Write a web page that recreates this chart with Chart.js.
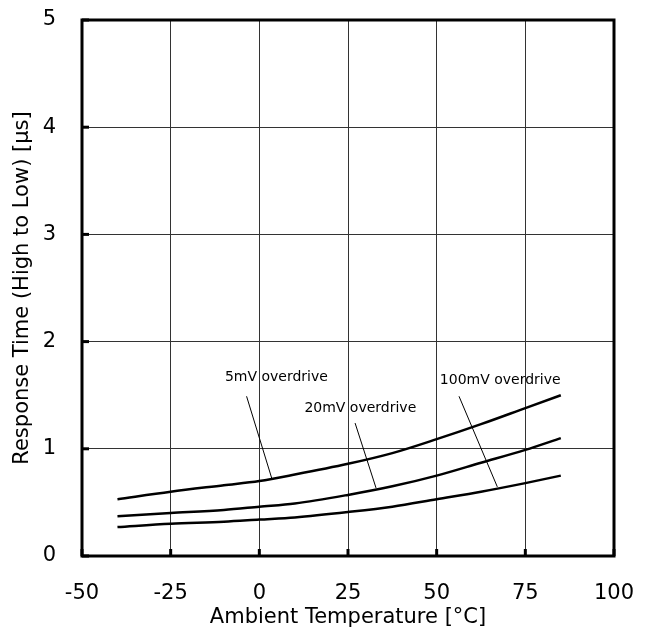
<!DOCTYPE html>
<html>
<head>
<meta charset="utf-8">
<script src="https://cdn.jsdelivr.net/npm/chart.js@4"></script>
<style>
  html, body { margin: 0; padding: 0; background: #fff; }
  #wrap { width: 646px; height: 632px; }
</style>
</head>
<body>
<div id="wrap"><canvas id="myChart" width="646" height="632"></canvas></div>
<script>
// data
const temps = [-40, -25, -10, 0, 10, 25, 37.5, 50, 62.5, 75, 85];
const od5mV = [0.53, 0.60, 0.66, 0.70, 0.76, 0.86, 0.96, 1.09, 1.23, 1.38, 1.50];
const od20mV = [0.37, 0.40, 0.43, 0.46, 0.49, 0.57, 0.65, 0.75, 0.87, 0.99, 1.10];
const od100mV = [0.27, 0.30, 0.32, 0.34, 0.36, 0.41, 0.46, 0.53, 0.60, 0.68, 0.75];

// callout labels: [text, x, y] and leader lines [[x1,y1],[x2,y2]]
const labels = [
  ['5mV overdrive', -9.7, 1.666],
  ['20mV overdrive', 12.7, 1.379],
  ['100mV overdrive', 50.9, 1.638]
];
const leader5 = [[-3.6, 1.49], [3.5, 0.725]];
const leader20 = [[27.0, 1.24], [32.9, 0.635]];
const leader100 = [[56.3, 1.49], [67.1, 0.645]];

const xTicks = [-50, -25, 0, 25, 50, 75, 100];
const yTicks = [0, 1, 2, 3, 4, 5];

const FONT = '"DejaVu Sans", sans-serif';

function pts(xs, ys) { return xs.map((x, i) => ({x: x, y: ys[i]})); }
function seg(p) { return p.map(a => ({x: a[0], y: a[1]})); }

const curve = (lbl, d) => ({
  label: lbl, data: pts(temps, d),
  borderColor: '#000', borderWidth: 2.5, pointRadius: 0,
  cubicInterpolationMode: 'monotone', fill: false
});
const leader = (d) => ({
  label: 'leader', data: seg(d),
  borderColor: '#000', borderWidth: 1, pointRadius: 0, tension: 0
});

const framePlugin = {
  id: 'frame',
  afterDatasetsDraw(chart) {
    const c = chart.ctx, a = chart.chartArea;
    const xs = chart.scales.x, ys = chart.scales.y;
    c.save();
    // inward tick marks
    c.strokeStyle = '#000';
    c.lineWidth = 3;
    xTicks.forEach(v => {
      const px = xs.getPixelForValue(v);
      c.beginPath(); c.moveTo(px, a.bottom); c.lineTo(px, a.bottom - 7); c.stroke();
    });
    yTicks.forEach(v => {
      const py = ys.getPixelForValue(v);
      c.beginPath(); c.moveTo(a.left, py); c.lineTo(a.left + 7, py); c.stroke();
    });
    // frame
    c.strokeRect(a.left, a.top, a.right - a.left, a.bottom - a.top);
    // callout text
    c.fillStyle = '#000';
    c.font = '14px ' + FONT;
    c.textBaseline = 'middle';
    c.textAlign = 'left';
    labels.forEach(l => {
      c.fillText(l[0], xs.getPixelForValue(l[1]), ys.getPixelForValue(l[2]));
    });
    c.restore();
  }
};

new Chart(document.getElementById('myChart').getContext('2d'), {
  type: 'line',
  data: {
    datasets: [
      curve('5mV overdrive', od5mV),
      curve('20mV overdrive', od20mV),
      curve('100mV overdrive', od100mV),
      leader(leader5),
      leader(leader20),
      leader(leader100)
    ]
  },
  options: {
    responsive: false,
    animation: false,
    layout: { padding: { left: 0, right: 32, top: 20, bottom: 0 } },
    plugins: { legend: { display: false }, tooltip: { enabled: false } },
    scales: {
      x: {
        type: 'linear', min: -50, max: 100,
        afterFit: s => { s.height = 76; s.paddingLeft = 0; s.paddingRight = 0; },
        afterBuildTicks: s => { s.ticks = xTicks.map(v => ({value: v})); },
        grid: { color: '#333', lineWidth: 1, drawTicks: false },
        border: { display: false },
        ticks: { color: '#000', font: { size: 21, family: FONT }, padding: 25, maxRotation: 0 },
        title: { display: true, text: 'Ambient Temperature [°C]', color: '#000',
                 font: { size: 21, family: FONT }, padding: { top: 0, bottom: 2 } }
      },
      y: {
        type: 'linear', min: 0, max: 5,
        afterFit: s => { s.width = 82; s.paddingTop = 0; s.paddingBottom = 0; },
        afterBuildTicks: s => { s.ticks = yTicks.map(v => ({value: v})); },
        grid: { color: '#333', lineWidth: 1, drawTicks: false },
        border: { display: false },
        ticks: { color: '#000', font: { size: 21, family: FONT }, padding: 26 },
        title: { display: true, text: 'Response Time (High to Low) [µs]', color: '#000',
                 font: { size: 21, family: FONT }, padding: { top: 10, bottom: 0 } }
      }
    }
  },
  plugins: [framePlugin]
});
</script>
</body>
</html>
